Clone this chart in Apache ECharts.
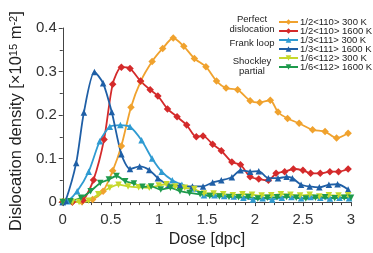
<!DOCTYPE html>
<html>
<head>
<meta charset="utf-8">
<script src="https://cdn.jsdelivr.net/npm/echarts@6/dist/echarts.min.js"></script>
<style>
  html, body { margin: 0; padding: 0; background: #fff; }
  #chart { width: 373px; height: 253px; }
</style>
</head>
<body>
<div id="chart"></div>
<script>
// dose [dpc], density [x10^15 m^-2]
var perfect300 = [[0,0],[0.1,0],[0.2,0.001],[0.31,0.006],[0.42,0.025],[0.52,0.072],[0.61,0.129],[0.71,0.218],[0.81,0.277],[0.93,0.323],[1.04,0.353],[1.15,0.377],[1.26,0.358],[1.37,0.33],[1.49,0.311],[1.6,0.278],[1.7,0.262],[1.82,0.258],[1.95,0.233],[2.05,0.229],[2.16,0.234],[2.24,0.207],[2.34,0.192],[2.46,0.181],[2.6,0.166],[2.73,0.162],[2.85,0.147],[2.97,0.158]];
var perfect1600 = [[0,0],[0.1,0],[0.21,0.004],[0.32,0.051],[0.43,0.144],[0.52,0.271],[0.61,0.31],[0.7,0.307],[0.81,0.278],[0.91,0.258],[0.99,0.244],[1.09,0.214],[1.19,0.196],[1.29,0.177],[1.39,0.15],[1.46,0.152],[1.56,0.133],[1.65,0.118],[1.76,0.092],[1.85,0.086],[1.95,0.058],[2.04,0.053],[2.14,0.05],[2.22,0.066],[2.31,0.07],[2.4,0.076],[2.5,0.073],[2.58,0.066],[2.68,0.066],[2.78,0.07],[2.87,0.07],[2.97,0.076]];
var frank300 = [[0,0],[0.05,0.002],[0.15,0.025],[0.27,0.07],[0.385,0.14],[0.49,0.173],[0.6,0.177],[0.7,0.173],[0.82,0.142],[0.93,0.1],[1.03,0.07],[1.14,0.05],[1.24,0.04],[1.36,0.031],[1.47,0.016],[1.58,0.016],[1.68,0.014],[1.78,0.013],[1.88,0.01],[1.98,0.006],[2.08,0.009],[2.18,0.006],[2.28,0.01],[2.38,0.012],[2.48,0.009],[2.58,0.012],[2.68,0.01],[2.78,0.008],[2.88,0.01],[2.98,0.009]];
var frank1600 = [[0,0],[0.03,0.003],[0.14,0.09],[0.22,0.206],[0.33,0.299],[0.42,0.273],[0.51,0.207],[0.61,0.11],[0.7,0.076],[0.8,0.082],[0.9,0.074],[0.99,0.055],[1.1,0.04],[1.22,0.038],[1.35,0.036],[1.46,0.036],[1.56,0.045],[1.65,0.05],[1.76,0.057],[1.85,0.073],[1.95,0.07],[2.04,0.071],[2.14,0.055],[2.24,0.055],[2.33,0.058],[2.39,0.055],[2.48,0.04],[2.57,0.036],[2.67,0.034],[2.77,0.04],[2.86,0.041],[2.97,0.029]];
var shockley300 = [[0,0],[0.1,0],[0.17,0],[0.27,0.003],[0.37,0.018],[0.49,0.033],[0.58,0.04],[0.68,0.036],[0.79,0.034],[0.9,0.033],[1.0,0.038],[1.08,0.041],[1.17,0.036],[1.27,0.033],[1.37,0.03],[1.47,0.02],[1.57,0.02],[1.67,0.018],[1.77,0.016],[1.87,0.018],[1.97,0.017],[2.07,0.015],[2.17,0.016],[2.27,0.018],[2.37,0.017],[2.47,0.015],[2.57,0.017],[2.67,0.013],[2.77,0.016],[2.87,0.015],[2.97,0.016]];
var shockley1600 = [[0,0],[0.08,0.002],[0.19,0.01],[0.29,0.025],[0.39,0.044],[0.48,0.052],[0.56,0.06],[0.65,0.048],[0.74,0.043],[0.83,0.035],[0.92,0.036],[1.02,0.029],[1.12,0.033],[1.22,0.025],[1.32,0.021],[1.43,0.018],[1.53,0.014],[1.63,0.013],[1.73,0.012],[1.83,0.011],[1.93,0.012],[2.03,0.008],[2.13,0.01],[2.23,0.011],[2.33,0.012],[2.43,0.01],[2.53,0.008],[2.63,0.01],[2.73,0.011],[2.83,0.009],[2.93,0.01],[3.0,0.01]];

var seriesNames = ['1/2<110> 300 K', '1/2<110> 1600 K', '1/3<111> 300 K', '1/3<111> 1600 K', '1/6<112> 300 K', '1/6<112> 1600 K'];
var groupLabels = ['Perfect\ndislocation', 'Frank loop', 'Shockley\npartial'];

var FONT = '"Liberation Sans", Arial, Helvetica, sans-serif';
var chart = echarts.init(document.getElementById('chart'), null, { renderer: 'canvas' });

function mk(name, data, color, symbol, rotate) {
  return {
    name: name,
    type: 'line',
    data: data,
    smooth: 0.25,
    symbol: symbol,
    symbolSize: symbol === 'diamond' ? 7.5 : 6.5,
    symbolRotate: rotate || 0,
    showSymbol: true,
    lineStyle: { color: color, width: 1.8 },
    itemStyle: { color: color, borderWidth: 0 },
    emphasis: { disabled: true },
    animation: false
  };
}

chart.setOption({
  backgroundColor: '#fff',
  textStyle: { fontFamily: FONT },
  grid: { left: 57, right: 22, top: 28, bottom: 45 },
  legend: {
    orient: 'vertical',
    left: 278, top: 17,
    padding: 0,
    itemWidth: 19, itemHeight: 7, itemGap: -1,
    textStyle: { fontSize: 9.5, color: '#222', fontFamily: FONT, padding: [0, 0, 0, -3] },
    data: seriesNames
  },
  graphic: [
    { type: 'text', x: 252, y: 14, style: { text: groupLabels[0], textAlign: 'center', fontSize: 9.5, lineHeight: 10, fill: '#222', fontFamily: FONT } },
    { type: 'text', x: 252, y: 38, style: { text: groupLabels[1], textAlign: 'center', fontSize: 9.5, lineHeight: 10, fill: '#222', fontFamily: FONT } },
    { type: 'text', x: 252, y: 56, style: { text: groupLabels[2], textAlign: 'center', fontSize: 9.5, lineHeight: 10, fill: '#222', fontFamily: FONT } }
  ],
  xAxis: {
    type: 'value', min: 0, max: 3, interval: 0.5,
    name: 'Dose [dpc]', nameLocation: 'middle', nameGap: 21,
    nameTextStyle: { fontSize: 16, color: '#222', fontFamily: FONT },
    axisLine: { lineStyle: { color: '#444', width: 1 } },
    axisTick: { inside: false, length: 4, lineStyle: { color: '#444' } },
    minorTick: { show: true, splitNumber: 5, length: 3, lineStyle: { color: '#444' } },
    axisLabel: { fontSize: 15, color: '#333', margin: 10, fontFamily: FONT },
    splitLine: { show: false }
  },
  yAxis: {
    type: 'value', min: 0, max: 0.4, interval: 0.1,
    name: '{a|Dislocation density [×10}{s|15}{a| m}{s|-2}{a|]}',
    nameLocation: 'middle', nameRotate: 90, nameGap: 34,
    nameTextStyle: {
      padding: [0, 12, 0, 0],
      rich: {
        a: { fontSize: 16.5, color: '#222', fontFamily: FONT },
        s: { fontSize: 11, color: '#222', fontFamily: FONT, verticalAlign: 'top', padding: [0, 0, 6, 0] }
      }
    },
    axisLine: { show: true, lineStyle: { color: '#444', width: 1 } },
    axisTick: { show: true, inside: false, length: 4, lineStyle: { color: '#444' } },
    minorTick: { show: true, splitNumber: 2, length: 3, lineStyle: { color: '#444' } },
    axisLabel: { fontSize: 15, color: '#333', margin: 6, fontFamily: FONT },
    splitLine: { show: false }
  },
  series: [
    mk(seriesNames[0], perfect300, '#F0A22E', 'diamond'),
    mk(seriesNames[1], perfect1600, '#D42A2B', 'diamond'),
    mk(seriesNames[2], frank300, '#2F9BD2', 'triangle'),
    mk(seriesNames[3], frank1600, '#1F5FA6', 'triangle'),
    mk(seriesNames[4], shockley300, '#C6D82C', 'triangle', 180),
    mk(seriesNames[5], shockley1600, '#1E9A4C', 'triangle', 180)
  ]
});
</script>
</body>
</html>
